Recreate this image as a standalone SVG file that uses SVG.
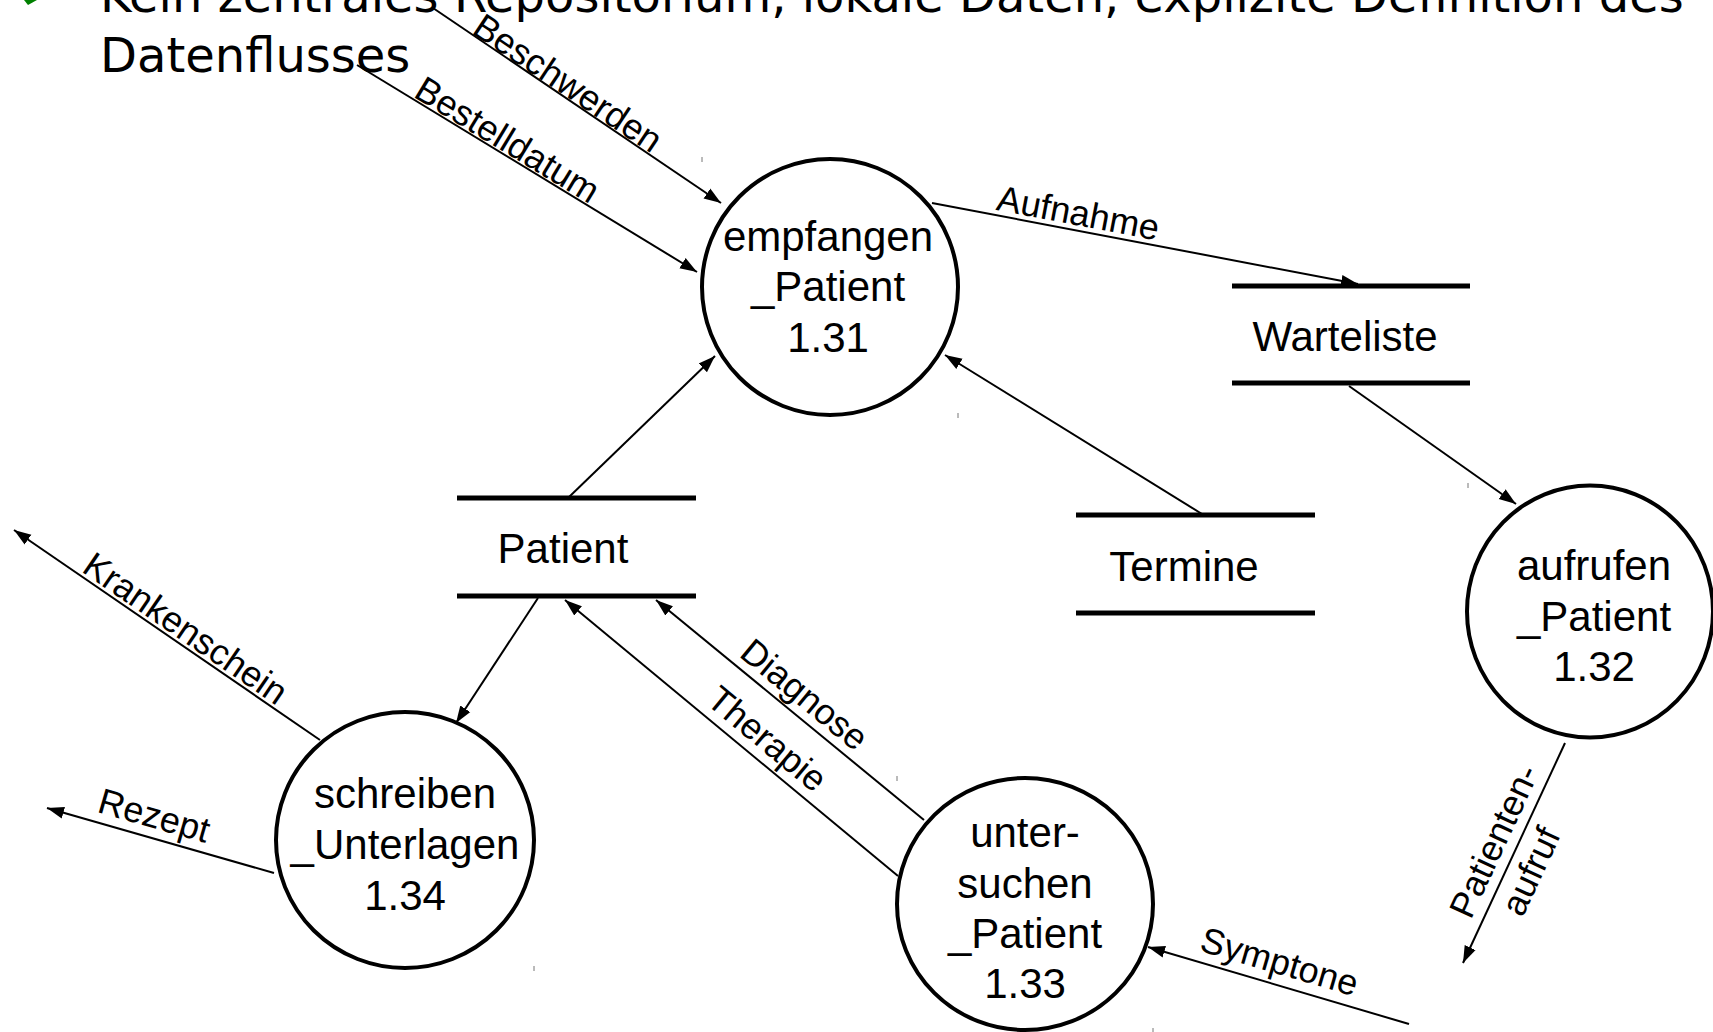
<svg xmlns="http://www.w3.org/2000/svg" width="1713" height="1032" viewBox="0 0 1713 1032">
<defs>
<style>
.hdr{font-family:"DejaVu Sans",sans-serif;font-size:48px;fill:#000}
.nt{font-family:"Liberation Sans",Arial,sans-serif;font-size:42px;fill:#000;text-anchor:middle}
.lb{font-family:"Liberation Sans",Arial,sans-serif;font-size:36px;fill:#000;text-anchor:middle}
.proc{fill:#fff;stroke:#000;stroke-width:4}
.store{stroke:#000;stroke-width:5}
.flow{stroke:#000;stroke-width:2;fill:none}
.arr{marker-end:url(#ah)}
.tick{stroke:#777;stroke-width:1}
</style>
<marker id="ah" markerUnits="userSpaceOnUse" markerWidth="18" markerHeight="14" refX="17" refY="7" orient="auto">
<path d="M0,1 L17,7 L0,13 z" fill="#000"/>
</marker>
</defs>
<rect width="1713" height="1032" fill="#fff"/>

<g id="header">
<polygon points="24,0 37,0 28,5" fill="#008000"/>
<text class="hdr" x="100" y="12">Kein zentrales Repositorium, lokale Daten, explizite Definition des</text>
<text class="hdr" x="100" y="72">Datenflusses</text>
</g>

<g id="connectors">
<line class="flow arr" x1="433" y1="8" x2="721" y2="203"/>
<line class="flow arr" x1="357" y1="65" x2="697" y2="272"/>
<line class="flow arr" x1="932" y1="203" x2="1358" y2="284"/>
<line class="flow arr" x1="1349" y1="386" x2="1516" y2="504"/>
<line class="flow arr" x1="1202" y1="514" x2="945" y2="355"/>
<line class="flow arr" x1="568" y1="498" x2="715" y2="356"/>
<line class="flow arr" x1="538" y1="598" x2="456" y2="723"/>
<line class="flow arr" x1="898" y1="876" x2="565" y2="600"/>
<line class="flow arr" x1="924" y1="820" x2="656" y2="600"/>
<line class="flow arr" x1="1409" y1="1024" x2="1148" y2="947"/>
<line class="flow arr" x1="1565" y1="743" x2="1463" y2="963"/>
<line class="flow arr" x1="320" y1="740" x2="14" y2="530"/>
<line class="flow arr" x1="274" y1="873" x2="47" y2="808"/>

<text class="lb" transform="translate(560,95) rotate(33.8)" y="-2">Beschwerden</text>
<text class="lb" transform="translate(500,152) rotate(31.3)" y="-2">Bestelldatum</text>
<text class="lb" transform="translate(1075,230) rotate(10.8)" y="-5">Aufnahme</text>
<text class="lb" transform="translate(177,641) rotate(34.5)" y="-3">Krankenschein</text>
<text class="lb" transform="translate(148,837) rotate(16)" y="-10">Rezept</text>
<text class="lb" transform="translate(1273,984) rotate(16.4)" y="-11">Symptone</text>
<text class="lb" transform="translate(791,711) rotate(39.4)" y="-9">Diagnose</text>
<text class="lb" transform="translate(753,756) rotate(39.65)" y="-10">Therapie</text>
<g transform="translate(1510,855) rotate(-65.1)">
<text class="lb" x="6" y="-8">Patienten-</text>
<text class="lb" x="-6" y="38">aufruf</text>
</g>
</g>

<g id="empfangen_Patient">
<circle class="proc" cx="830" cy="287" r="128"/>
<text class="nt" x="828" y="251">empfangen</text>
<text class="nt" x="828" y="301">_Patient</text>
<text class="nt" x="828" y="352">1.31</text>
</g>

<g id="aufrufen_Patient">
<ellipse class="proc" cx="1590" cy="611.5" rx="123" ry="126"/>
<text class="nt" x="1594" y="580">aufrufen</text>
<text class="nt" x="1594" y="631">_Patient</text>
<text class="nt" x="1594" y="681">1.32</text>
</g>

<g id="untersuchen_Patient">
<ellipse class="proc" cx="1025" cy="904" rx="128" ry="126"/>
<text class="nt" x="1025" y="847">unter-</text>
<text class="nt" x="1025" y="898">suchen</text>
<text class="nt" x="1025" y="948">_Patient</text>
<text class="nt" x="1025" y="998">1.33</text>
</g>

<g id="schreiben_Unterlagen">
<ellipse class="proc" cx="405" cy="840" rx="129" ry="128"/>
<text class="nt" x="405" y="808">schreiben</text>
<text class="nt" x="405" y="859">_Unterlagen</text>
<text class="nt" x="405" y="910">1.34</text>
</g>

<g id="Warteliste">
<line class="store" x1="1232" y1="286" x2="1470" y2="286"/>
<line class="store" x1="1232" y1="383" x2="1470" y2="383"/>
<text class="nt" x="1345" y="351">Warteliste</text>
</g>

<g id="Termine">
<line class="store" x1="1076" y1="515" x2="1315" y2="515"/>
<line class="store" x1="1076" y1="613" x2="1315" y2="613"/>
<text class="nt" x="1184" y="581">Termine</text>
</g>

<g id="Patient">
<line class="store" x1="457" y1="498" x2="696" y2="498"/>
<line class="store" x1="457" y1="596" x2="696" y2="596"/>
<text class="nt" x="563" y="563">Patient</text>
</g>

<g id="marks">
<line class="tick" x1="702" y1="157" x2="702" y2="162"/>
<line class="tick" x1="958" y1="413" x2="958" y2="418"/>
<line class="tick" x1="1468" y1="483" x2="1468" y2="488"/>
<line class="tick" x1="897" y1="776" x2="897" y2="781"/>
<line class="tick" x1="534" y1="966" x2="534" y2="971"/>
<line class="tick" x1="1153" y1="1028" x2="1153" y2="1032"/>
</g>
</svg>
